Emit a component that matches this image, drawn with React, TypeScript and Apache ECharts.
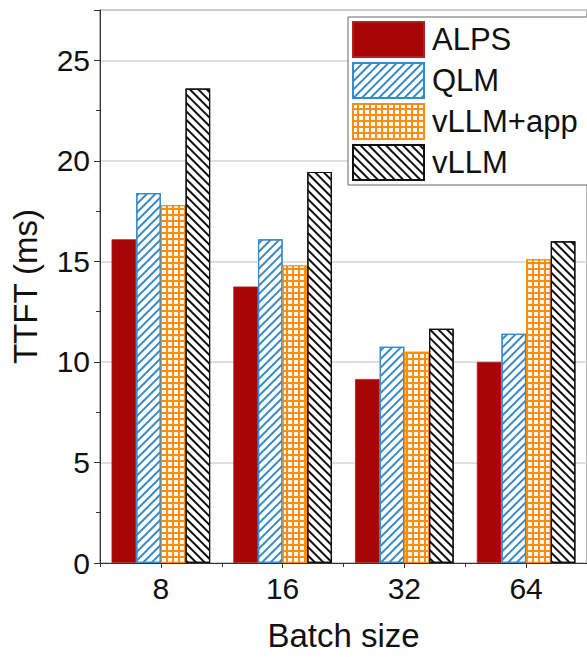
import React, { useEffect, useRef } from "react";
import * as echarts from "echarts";

const categories = ["8", "16", "32", "64"];
const seriesNames = ["ALPS", "QLM", "vLLM+app", "vLLM"];
const alps = [16.1, 13.75, 9.15, 10.0];
const qlm = [18.4, 16.1, 10.75, 11.4];
const vllmApp = [17.8, 14.8, 10.5, 15.1];
const vllm = [23.6, 19.45, 11.65, 16.0];
const yTicks = [0, 5, 10, 15, 20, 25];

const FONT = "Liberation Sans, Arial, sans-serif";

export default function App() {
  const ref = useRef<HTMLDivElement>(null);
  useEffect(() => {
    document.body.style.margin = "0";
    if (!ref.current) return;
    const chart = echarts.init(ref.current, undefined, { renderer: "svg" });
    const lineDecal = (color: string, rot: number) => ({
      symbol: "rect",
      symbolSize: 1,
      color,
      dashArrayX: [1, 0],
      dashArrayY: [1.1, 3.4],
      rotation: rot,
    });
    const option: any = {
      animation: false,
      backgroundColor: "#ffffff",
      grid: {
        left: 100,
        top: 10,
        width: 492,
        height: 553,
        show: true,
        borderColor: "#666",
        borderWidth: 1,
        backgroundColor: "transparent",
      },
      legend: {
        orient: "vertical",
        left: 348,
        top: 17,
        padding: [4, 12, 4, 4],
        itemWidth: 71,
        itemHeight: 35,
        itemGap: 4,
        icon: "rect",
        borderColor: "#666",
        borderWidth: 1,
        backgroundColor: "#fff",
        data: seriesNames,
        textStyle: { fontFamily: FONT, fontSize: 31, color: "#111", padding: [0, 0, 0, 3] },
      },
      xAxis: [
        {
          type: "category",
          data: categories,
          name: "Batch size",
          nameLocation: "middle",
          nameGap: 56,
          nameTextStyle: { fontFamily: FONT, fontSize: 33, color: "#111" },
          axisLine: { lineStyle: { color: "#333", width: 1 } },
          axisTick: { show: true, alignWithLabel: true, length: 5, lineStyle: { color: "#333" } },
          axisLabel: { fontFamily: FONT, fontSize: 30, color: "#111", margin: 10 },
        },
        {
          type: "category",
          data: categories,
          position: "bottom",
          axisLine: { show: false },
          axisTick: { show: true, length: 4, lineStyle: { color: "#333" } },
          axisLabel: { show: false },
        },
      ],
      yAxis: {
        type: "value",
        min: 0,
        max: 27.5,
        interval: 5,
        name: "TTFT (ms)",
        nameLocation: "middle",
        nameGap: 58,
        nameTextStyle: { fontFamily: FONT, fontSize: 33, color: "#111" },
        axisLine: { show: true, lineStyle: { color: "#333", width: 1 } },
        axisTick: { show: true, length: 6, lineStyle: { color: "#333" } },
        minorTick: { show: true, splitNumber: 2, length: 4, lineStyle: { color: "#333" } },
        axisLabel: {
          fontFamily: FONT,
          fontSize: 30,
          color: "#111",
          margin: 10,
          showMaxLabel: false,
          formatter: (v: number) => (yTicks.includes(v) ? String(v) : ""),
        },
        splitLine: { show: true, lineStyle: { color: "#d4d4d4", width: 1.5 } },
      },
      series: [
        {
          name: seriesNames[0],
          type: "bar",
          data: alps,
          barGap: "0%",
          barCategoryGap: "19%",
          itemStyle: { color: "#a80606", borderColor: "#b52020", borderWidth: 0.8 },
        },
        {
          name: seriesNames[1],
          type: "bar",
          data: qlm,
          itemStyle: {
            color: "#ffffff",
            borderColor: "#3a8ac9",
            borderWidth: 1.2,
            decal: lineDecal("#3a8ac9", -Math.PI / 4),
          },
        },
        {
          name: seriesNames[2],
          type: "bar",
          data: vllmApp,
          itemStyle: {
            color: "#ff8c0a",
            borderColor: "#ff8c0a",
            borderWidth: 1.2,
            decal: {
              symbol: "rect",
              symbolSize: 1,
              color: "#ffffff",
              dashArrayX: [3.6, 1.4],
              dashArrayY: [3.6, 1.4],
              rotation: 0,
            },
          },
        },
        {
          name: seriesNames[3],
          type: "bar",
          data: vllm,
          itemStyle: {
            color: "#ffffff",
            borderColor: "#111111",
            borderWidth: 1.2,
            decal: lineDecal("#111111", Math.PI / 4),
          },
        },
      ],
    };
    chart.setOption(option);
    return () => chart.dispose();
  }, []);
  return <div ref={ref} style={{ width: 587, height: 657 }} />;
}
